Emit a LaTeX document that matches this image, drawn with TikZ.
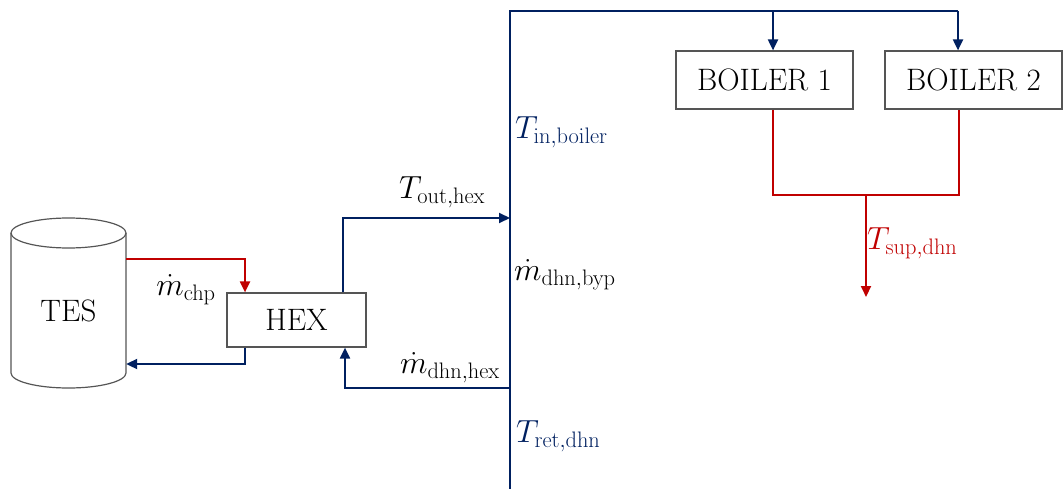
\RequirePackage{fix-cm}
\documentclass[tikz,border=0pt]{standalone}
\usetikzlibrary{arrows.meta}
\definecolor{navy}{RGB}{0,32,96}
\definecolor{hot}{RGB}{192,0,0}
\definecolor{boxgray}{RGB}{85,85,85}
\begin{document}
\begin{tikzpicture}[x=1pt,y=-1pt,
  unitbox/.style={draw=boxgray,line width=1.2pt,inner sep=0pt,font=\fontsize{31}{34}\selectfont},
  pipe/.style={line width=2pt},
  cold/.style={pipe,draw=navy,-{Triangle[length=11pt,width=10pt]}},
  coldline/.style={pipe,draw=navy},
  warm/.style={pipe,draw=hot,-{Triangle[length=11pt,width=10pt]}},
  warmline/.style={pipe,draw=hot},
  lbl/.style={font=\fontsize{32}{34}\selectfont,inner sep=0pt}]
\useasboundingbox (0,0) rectangle (1064,489);
% TES cylinder
\node[inner sep=0pt,minimum width=115,minimum height=155,font=\fontsize{31}{34}\selectfont] (tes) at (68.5,311) {TES};
\draw[boxgray,line width=1.2pt] (68.5,233) ellipse [x radius=57.5, y radius=15];
\draw[boxgray,line width=1.2pt] (11,233) -- (11,373) arc[start angle=180,end angle=0,x radius=57.5,y radius=15] -- (126,233);
% boxes
\node[unitbox,minimum width=139,minimum height=54] (hex) at (296.5,320) {HEX};
\node[unitbox,minimum width=177,minimum height=58] (b1) at (764.5,80) {BOILER 1};
\node[unitbox,minimum width=177,minimum height=58] (b2) at (973.5,80) {BOILER 2};
% main line
\coordinate (vtop) at (510,11);
\coordinate (vbot) at (510,489);
\draw[coldline] (vbot) -- (vtop) -- (958,11);
\draw[cold] (773,11) -- (b1.north -| 773,0);
\draw[cold] (958,11) -- (b2.north -| 958,0);
% boilers to supply
\coordinate (sup) at (866,297);
\draw[warmline] (b1.south -| 773,0) -- (773,195) -- (959,195) -- (b2.south -| 959,0);
\draw[warm] (866,195) -- (sup);
% TES - HEX
\draw[warm] (tes.east |- 0,259) -| (hex.north -| 245,0);
\draw[cold] (hex.south -| 245,0) |- (tes.east |- 0,364);
% HEX - main line
\draw[cold] (hex.north -| 343,0) |- (vtop |- 0,218);
\draw[cold] (vtop |- 0,388) -| (hex.south -| 345,0);
% labels
\node[lbl] (lchp) at (186,290) {$\dot{m}_{\mathrm{chp}}$};
\node[lbl] (lout) at (442,192) {$T_{\mathrm{out,hex}}$};
\node[lbl] (lhex) at (450,368) {$\dot{m}_{\mathrm{dhn,hex}}$};
\node[lbl,anchor=west] (lbyp) at (514,275) {$\dot{m}_{\mathrm{dhn,byp}}$};
\node[lbl,anchor=west,text=navy] (lin) at (515,132) {$T_{\mathrm{in,boiler}}$};
\node[lbl,anchor=west,text=navy] (lret) at (516,436) {$T_{\mathrm{ret,dhn}}$};
\node[lbl,anchor=west,text=hot] (lsup) at (867,243) {$T_{\mathrm{sup,dhn}}$};
\end{tikzpicture}
\end{document}
